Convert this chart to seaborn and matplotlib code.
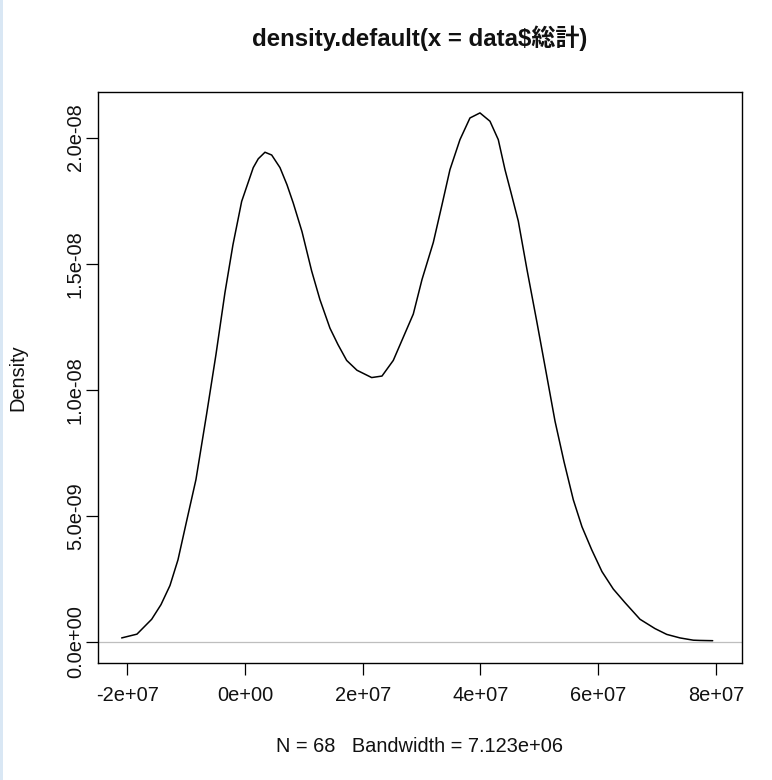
import numpy as np
import pandas as pd
import matplotlib
matplotlib.use("Agg")
import matplotlib.pyplot as plt
from matplotlib.patches import Rectangle
import seaborn as sns

# Density curve (x: 総計 value, y: density)
density_x = [-2.095e7, -1.835e7, -1.585e7, -1.427e7, -1.274e7, -1.138e7, -0.991e7,
             -0.833e7, -0.651e7, -0.493e7, -0.340e7, -0.204e7, -0.056e7,
             0.141e7, 0.226e7, 0.340e7, 0.454e7, 0.595e7, 0.714e7, 0.821e7,
             0.969e7, 1.133e7, 1.274e7, 1.444e7, 1.580e7, 1.728e7, 1.903e7,
             2.153e7, 2.328e7, 2.520e7, 2.860e7, 3.008e7, 3.200e7, 3.348e7,
             3.483e7, 3.653e7, 3.823e7, 3.993e7, 4.163e7, 4.304e7, 4.418e7,
             4.520e7, 4.644e7, 4.792e7, 4.957e7, 5.115e7, 5.268e7, 5.421e7,
             5.579e7, 5.726e7, 5.891e7, 6.066e7, 6.258e7, 6.457e7, 6.712e7,
             6.967e7, 7.166e7, 7.392e7, 7.618e7, 7.732e7, 7.947e7]
density_y = [0.15e-9, 0.30e-9, 0.89e-9, 1.47e-9, 2.23e-9, 3.25e-9, 4.79e-9,
             6.43e-9, 9.04e-9, 11.39e-9, 13.85e-9, 15.75e-9, 17.47e-9,
             18.81e-9, 19.16e-9, 19.42e-9, 19.31e-9, 18.81e-9, 18.13e-9, 17.40e-9,
             16.27e-9, 14.71e-9, 13.57e-9, 12.44e-9, 11.79e-9, 11.16e-9, 10.77e-9,
             10.48e-9, 10.54e-9, 11.16e-9, 13.00e-9, 14.37e-9, 15.84e-9, 17.34e-9,
             18.73e-9, 19.92e-9, 20.78e-9, 20.98e-9, 20.65e-9, 19.92e-9, 18.73e-9,
             17.82e-9, 16.69e-9, 14.76e-9, 12.72e-9, 10.71e-9, 8.75e-9, 7.14e-9,
             5.63e-9, 4.56e-9, 3.65e-9, 2.78e-9, 2.09e-9, 1.55e-9, 0.89e-9,
             0.52e-9, 0.29e-9, 0.15e-9, 0.06e-9, 0.05e-9, 0.04e-9]

x_ticks = [-2e7, 0, 2e7, 4e7, 6e7, 8e7]
x_tick_labels = ["-2e+07", "0e+00", "2e+07", "4e+07", "6e+07", "8e+07"]
y_ticks = [0, 5e-9, 1e-8, 1.5e-8, 2e-8]
y_tick_labels = ["0.0e+00", "5.0e-09", "1.0e-08", "1.5e-08", "2.0e-08"]

title_text = "density.default(x = data$総計)"
xlabel_text = "N = 68   Bandwidth = 7.123e+06"
ylabel_text = "Density"

sns.set_theme(style="white")
plt.rcParams["font.family"] = ["Liberation Sans", "Noto Sans CJK JP", "DejaVu Sans"]

df = pd.DataFrame({"x": density_x, "y": density_y})

W, H = 772, 780
fig = plt.figure(figsize=(W / 100, H / 100), dpi=100)
fig.patch.set_facecolor("white")
# thin light-blue strip at the left edge of the screenshot
fig.patches.append(Rectangle((0, 0), 3 / W, 1, transform=fig.transFigure,
                             facecolor="#d9e7f4", edgecolor="none"))

L, R, B, T = 98, 742, 663, 92
ax = fig.add_axes([L / W, 1 - B / H, (R - L) / W, (B - T) / H])

ax.axhline(0, color="#bebebe", lw=0.9, zorder=1)
sns.lineplot(data=df, x="x", y="y", ax=ax, color="black", lw=1.1,
             sort=False, estimator=None, zorder=2)

ax.set_xlim(-2.497e7, 8.445e7)
ax.set_ylim(-0.845e-9, 21.81e-9)

ax.set_xticks(x_ticks)
ax.set_xticklabels(x_tick_labels)
ax.set_yticks(y_ticks)
ax.set_yticklabels(y_tick_labels, rotation=90, va="center")

ax.tick_params(axis="both", which="major", direction="out", length=8.5,
               width=0.9, color="black", labelsize=14.4, labelcolor="#111111")
ax.tick_params(axis="x", pad=8)
ax.tick_params(axis="y", pad=1)
ax.tick_params(bottom=True, left=True)

for s in ax.spines.values():
    s.set_visible(True)
    s.set_color("black")
    s.set_linewidth(1.0)

ax.set_xlabel(xlabel_text, fontsize=14.4, color="#111111")
ax.xaxis.label.set_va("center")
ax.xaxis.set_label_coords(0.5, (B - 747) / (B - T))

ax.set_ylabel(ylabel_text, fontsize=14.4, color="#111111")
ax.yaxis.label.set_rotation_mode("default")
ax.yaxis.label.set_ha("center")
ax.yaxis.label.set_va("center")
ax.yaxis.set_label_coords((18 - L) / (R - L), 0.5)

ax.set_title(title_text, fontsize=17.3, fontweight="bold", color="#111111",
             y=(B - 47) / (B - T), va="center")

fig.savefig("out.png", dpi=100, facecolor="white")
